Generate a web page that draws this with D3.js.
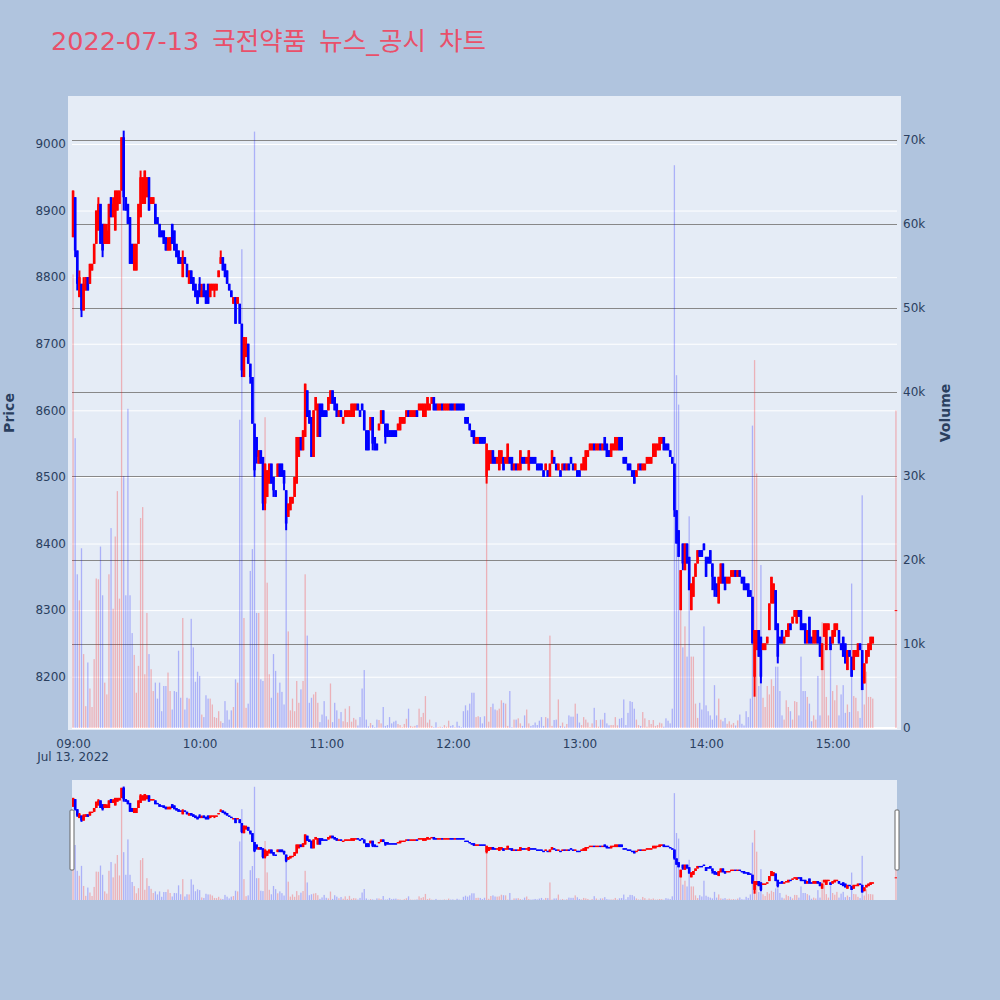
<!DOCTYPE html>
<html>
<head>
<meta charset="utf-8">
<script src="https://cdn.jsdelivr.net/npm/d3@7"></script>
<style>
  body { margin: 0; background: #b0c4de; }
  text { font-family: "DejaVu Sans", "Noto Sans CJK KR", sans-serif; }
</style>
</head>
<body>
<svg id="chart" width="1000" height="1000"></svg>
<script>
const chartTitle = "2022-07-13 국전약품 뉴스_공시 차트";
const priceTicks = [8200, 8300, 8400, 8500, 8600, 8700, 8800, 8900, 9000];
const volumeTicks = [0, 10000, 20000, 30000, 40000, 50000, 60000, 70000];
const hourTicks = ["09:00", "10:00", "11:00", "12:00", "13:00", "14:00", "15:00"];

// one candle per minute from 09:00 to 15:19, then the 15:30 closing print
const minutes = d3.range(380).concat([390]);

const open = [
  8860,8920,8840,8770,8790,8750,8780,8800,8790,8810, 8820,8850,8870,8910,8880,8850,8850,8850,8920,8890,
  8870,8900,8910,8930,9010,8920,8910,8890,8850,8810, 8810,8850,8890,8910,8910,8920,8950,8910,8910,8910,
  8890,8880,8870,8870,8860,8840,8840,8880,8870,8850, 8840,8830,8800,8830,8820,8790,8810,8800,8790,8780,
  8790,8770,8790,8780,8790,8770,8780,8780,8780,8800, 8820,8830,8820,8810,8790,8780,8760,8770,8760,8760,
  8730,8650,8680,8700,8670,8650,8580,8560,8520,8540, 8530,8460,8470,8490,8520,8500,8480,8500,8520,8520,
  8510,8480,8440,8450,8460,8470,8490,8530,8560,8540, 8560,8630,8600,8590,8530,8600,8560,8610,8610,8600,
  8600,8600,8610,8630,8620,8610,8590,8600,8580,8590, 8590,8590,8590,8590,8600,8610,8600,8610,8600,8570,
  8570,8570,8590,8560,8550,8570,8580,8600,8580,8580, 8570,8570,8570,8570,8570,8570,8580,8580,8590,8600,
  8590,8590,8590,8600,8600,8600,8590,8590,8600,8600, 8610,8620,8610,8600,8600,8610,8600,8600,8600,8610,
  8610,8600,8610,8610,8610,8610,8590,8590,8580,8570, 8570,8550,8550,8560,8560,8560,8500,8510,8520,8540,
  8530,8520,8510,8520,8530,8520,8520,8530,8530,8510, 8520,8510,8510,8530,8530,8520,8510,8530,8530,8530,
  8520,8520,8520,8510,8510,8510,8500,8520,8530,8520, 8510,8510,8510,8520,8510,8520,8530,8520,8510,8510,
  8510,8510,8510,8510,8530,8540,8540,8550,8540,8540, 8550,8540,8560,8550,8540,8530,8540,8540,8540,8560,
  8560,8530,8530,8520,8520,8510,8510,8500,8510,8520, 8510,8510,8520,8520,8520,8530,8530,8540,8540,8550,
  8560,8550,8550,8540,8530,8520,8450,8420,8300,8400, 8360,8400,8380,8300,8320,8350,8370,8390,8390,8400,
  8380,8380,8390,8370,8350,8340,8310,8340,8370,8350, 8340,8340,8350,8350,8360,8350,8360,8350,8350,8340,
  8340,8330,8320,8200,8240,8270,8260,8240,8240,8250, 8270,8310,8310,8330,8280,8260,8270,8250,8260,8260,
  8280,8280,8290,8280,8300,8300,8280,8280,8250,8290, 8260,8250,8250,8270,8260,8210,8260,8240,8270,8260,
  8250,8260,8270,8270,8250,8260,8250,8210,8240,8230, 8210,8230,8230,8250,8240,8190,8220,8230,8240,8250,
  8300
];
const high = [
  8930,8920,8840,8810,8790,8800,8800,8800,8820,8820, 8850,8900,8920,8910,8880,8880,8880,8910,8920,8920,
  8930,8930,8930,9010,9020,8920,8910,8890,8850,8850, 8850,8910,8960,8950,8960,8950,8950,8920,8920,8910,
  8890,8880,8870,8870,8860,8860,8860,8880,8870,8850, 8840,8830,8840,8830,8820,8810,8810,8800,8790,8780,
  8800,8790,8790,8780,8790,8790,8790,8790,8790,8810, 8840,8830,8820,8810,8790,8780,8770,8770,8770,8760,
  8730,8710,8710,8700,8670,8650,8580,8560,8540,8540, 8530,8520,8510,8520,8520,8500,8480,8520,8520,8520,
  8510,8480,8460,8470,8470,8500,8560,8560,8560,8570, 8640,8630,8600,8590,8600,8620,8610,8610,8610,8600,
  8600,8620,8630,8630,8620,8610,8600,8600,8590,8600, 8600,8600,8610,8610,8610,8610,8600,8610,8600,8570,
  8570,8590,8590,8560,8550,8580,8600,8600,8580,8580, 8570,8570,8570,8570,8580,8590,8590,8590,8600,8600,
  8600,8600,8600,8600,8610,8610,8610,8610,8620,8610, 8620,8620,8610,8610,8610,8610,8610,8610,8610,8610,
  8610,8610,8610,8610,8610,8610,8590,8590,8580,8570, 8570,8560,8560,8560,8560,8560,8550,8540,8540,8540,
  8530,8530,8540,8540,8530,8530,8550,8530,8530,8520, 8520,8520,8540,8530,8530,8530,8540,8530,8530,8530,
  8520,8520,8520,8510,8520,8510,8520,8540,8530,8520, 8520,8510,8520,8520,8520,8520,8530,8520,8520,8510,
  8510,8520,8530,8540,8540,8550,8550,8550,8550,8550, 8550,8550,8560,8550,8540,8550,8550,8560,8560,8560,
  8560,8530,8530,8520,8520,8510,8510,8510,8520,8520, 8520,8520,8530,8530,8530,8550,8550,8550,8560,8560,
  8560,8550,8550,8540,8530,8520,8450,8420,8360,8400, 8400,8400,8380,8340,8350,8370,8390,8390,8390,8400,
  8380,8380,8390,8370,8350,8340,8350,8370,8370,8350, 8350,8350,8360,8360,8360,8360,8360,8350,8350,8340,
  8340,8330,8320,8270,8270,8270,8260,8250,8250,8260, 8310,8350,8340,8330,8280,8260,8270,8260,8270,8280,
  8280,8290,8300,8300,8300,8300,8280,8280,8270,8290, 8260,8270,8270,8270,8260,8250,8280,8280,8280,8260,
  8270,8280,8280,8270,8250,8260,8250,8240,8240,8230, 8240,8240,8250,8250,8240,8220,8240,8250,8260,8260,
  8300
];
const low = [
  8860,8830,8780,8770,8740,8750,8780,8780,8790,8810, 8820,8850,8870,8850,8830,8850,8850,8850,8890,8890,
  8870,8900,8910,8930,8900,8900,8880,8820,8820,8810, 8810,8850,8890,8910,8910,8920,8900,8910,8910,8880,
  8880,8860,8860,8850,8840,8840,8840,8850,8840,8830, 8820,8820,8800,8820,8800,8790,8790,8780,8770,8760,
  8770,8770,8770,8760,8760,8770,8780,8770,8780,8800, 8820,8810,8800,8790,8780,8770,8760,8730,8760,8730,
  8650,8650,8680,8670,8640,8580,8500,8520,8520,8520, 8450,8450,8470,8490,8490,8470,8470,8500,8500,8500,
  8480,8420,8440,8450,8460,8470,8490,8530,8540,8540, 8560,8590,8580,8530,8530,8600,8560,8560,8590,8590,
  8590,8600,8610,8610,8600,8590,8590,8590,8580,8590, 8590,8590,8590,8590,8600,8600,8590,8600,8570,8540,
  8540,8570,8540,8540,8540,8570,8580,8580,8550,8560, 8560,8560,8560,8560,8570,8570,8580,8580,8590,8590,
  8590,8590,8590,8590,8600,8600,8590,8590,8600,8600, 8610,8600,8600,8600,8600,8600,8600,8600,8600,8600,
  8600,8600,8600,8600,8600,8600,8580,8580,8570,8560, 8550,8550,8550,8550,8550,8550,8490,8510,8520,8520,
  8520,8520,8510,8520,8510,8520,8520,8520,8510,8510, 8510,8510,8510,8520,8520,8520,8510,8520,8520,8520,
  8510,8510,8510,8500,8510,8500,8500,8520,8520,8510, 8510,8500,8510,8510,8510,8510,8520,8510,8510,8500,
  8500,8510,8510,8510,8530,8540,8540,8540,8540,8540, 8540,8540,8540,8530,8530,8530,8540,8540,8540,8540,
  8540,8520,8520,8510,8510,8500,8490,8500,8510,8510, 8510,8510,8520,8520,8520,8530,8530,8540,8540,8550,
  8540,8540,8540,8530,8520,8440,8400,8380,8300,8360, 8360,8370,8330,8300,8320,8350,8370,8380,8380,8390,
  8350,8370,8370,8330,8320,8320,8310,8340,8340,8330, 8340,8340,8350,8350,8350,8350,8350,8340,8330,8330,
  8320,8320,8250,8170,8240,8230,8190,8240,8240,8250, 8270,8310,8310,8270,8220,8250,8250,8250,8260,8260,
  8270,8280,8290,8280,8290,8270,8270,8250,8250,8250, 8250,8250,8250,8250,8230,8210,8260,8240,8270,8240,
  8250,8260,8270,8250,8240,8230,8220,8210,8230,8200, 8210,8230,8230,8240,8180,8190,8220,8230,8240,8250,
  8300
];
const close = [
  8930,8840,8790,8800,8750,8790,8800,8780,8820,8820, 8850,8900,8910,8850,8840,8880,8870,8910,8890,8910,
  8930,8930,8930,9010,8920,8900,8880,8820,8820,8850, 8850,8910,8950,8950,8960,8950,8900,8920,8920,8880,
  8880,8860,8860,8850,8840,8850,8860,8850,8840,8830, 8820,8820,8830,8820,8800,8810,8790,8780,8770,8760,
  8770,8780,8770,8760,8760,8790,8790,8790,8790,8810, 8830,8810,8800,8790,8780,8770,8770,8730,8770,8730,
  8660,8710,8700,8670,8650,8580,8510,8530,8540,8520, 8460,8520,8510,8520,8490,8480,8470,8520,8500,8500,
  8490,8430,8460,8470,8470,8500,8560,8560,8540,8570, 8640,8590,8580,8530,8600,8620,8610,8560,8590,8590,
  8590,8620,8630,8610,8600,8590,8600,8590,8590,8600, 8600,8600,8610,8610,8610,8600,8590,8600,8570,8540,
  8540,8590,8550,8540,8540,8580,8600,8580,8560,8560, 8560,8560,8560,8560,8580,8590,8590,8590,8600,8590,
  8600,8600,8600,8590,8610,8610,8610,8610,8620,8610, 8620,8600,8600,8610,8610,8600,8610,8610,8610,8600,
  8600,8610,8600,8600,8600,8600,8580,8580,8570,8560, 8550,8560,8560,8550,8550,8550,8550,8540,8540,8520,
  8520,8530,8540,8540,8510,8530,8550,8520,8510,8520, 8510,8520,8540,8520,8520,8530,8540,8520,8520,8520,
  8510,8510,8510,8500,8520,8500,8520,8540,8520,8510, 8520,8500,8520,8510,8520,8510,8520,8510,8520,8500,
  8500,8520,8530,8540,8540,8550,8550,8540,8550,8550, 8540,8550,8540,8530,8530,8550,8550,8560,8560,8540,
  8540,8520,8520,8510,8510,8500,8490,8510,8520,8510, 8520,8520,8530,8530,8530,8550,8550,8550,8560,8560,
  8540,8540,8540,8530,8520,8450,8400,8380,8360,8370, 8400,8370,8330,8340,8350,8370,8390,8380,8380,8390,
  8350,8370,8370,8350,8330,8320,8350,8370,8340,8330, 8350,8350,8360,8360,8350,8360,8350,8340,8330,8330,
  8320,8320,8250,8270,8270,8230,8200,8250,8250,8260, 8310,8350,8340,8270,8230,8250,8250,8260,8270,8280,
  8270,8290,8300,8300,8290,8270,8270,8250,8270,8250, 8250,8270,8270,8250,8230,8250,8280,8280,8280,8240,
  8270,8280,8280,8250,8240,8230,8220,8240,8230,8200, 8240,8240,8250,8240,8180,8220,8240,8250,8260,8260,
  8300
];
const volume = [
  54000,34500,18300,15200,21400,8800,2600,7800,4700,2500, 8200,17800,17700,21600,15800,5400,4000,18300,23800,14200,
  22800,28200,15400,70000,30000,15800,38000,15800,11300,8700, 4200,7400,25000,26300,6400,13700,8800,7000,4400,5400,
  3500,5400,2000,5000,5000,6600,4400,2200,4400,4300, 9200,3600,13100,2200,3600,3500,13000,9600,5500,6700,
  6200,1600,1300,3900,3500,3500,2800,1300,1200,2000, 800,600,3200,2100,1000,2100,2500,5800,5400,36700,
  57000,13100,2400,2900,18700,21300,71000,13700,13700,5800, 5600,37000,17300,6400,3600,8800,6800,4200,5400,4300,
  2800,24400,11500,2100,3500,2000,5600,3000,4600,5600, 18300,11000,3000,3600,4000,4300,3000,700,1600,3200,
  1400,1000,5300,700,3000,2100,1100,1900,800,2300, 700,2600,750,1200,1000,300,1300,4700,6900,1000,
  200,600,350,100,1000,950,550,2500,250,350, 1300,550,750,870,480,350,100,480,1100,2300,
  250,160,250,350,2300,1300,1800,3800,640,1000, 250,100,680,100,160,100,350,160,870,250,
  350,100,750,250,100,2000,2700,2100,2900,4200, 4200,1300,1400,1300,550,1400,30000,750,2500,2900,
  2200,2100,2300,3300,3000,2900,250,4400,100,1000, 1000,1150,550,250,1500,2200,550,250,350,650,
  350,870,1300,250,1300,1150,11000,250,950,1000, 3400,250,650,160,480,1500,1350,1350,2900,1700,
  650,350,1300,1000,650,100,550,2400,950,160, 1000,1000,1800,550,320,350,350,1300,320,1100,
  1200,3400,350,1800,3200,3100,2300,1000,350,250, 1900,1150,160,950,480,950,250,350,640,550,
  160,1150,870,550,2300,67000,42000,38500,15000,9600, 12100,8500,25200,8500,8500,2900,1200,3000,2200,12100,
  2700,2000,1500,1000,5100,1500,3500,1000,800,1200, 500,800,400,600,300,900,1600,500,300,2000,
  1300,3500,36000,43800,30300,5000,19400,3600,2500,5000, 4000,5800,5000,7300,7300,4400,1500,1000,3300,2500,
  2000,1000,3200,3100,1500,8500,4400,4400,3700,2900, 800,1500,1000,6200,1500,12600,10900,3700,1500,9300,
  4400,3300,5100,1500,4000,5100,1800,2800,1900,17200, 3800,3600,2000,1200,27700,2800,6700,3700,3700,3500,
  37800
];

const n = minutes.length;
[open, high, low, close, volume].forEach(a => {
  if (a.length !== n) throw new Error("length mismatch " + a.length + " vs " + n);
});

const upColor = "#ff0000", downColor = "#0000ff";
const textColor = "#2a3f5f";
const t0 = new Date(2022, 6, 13, 9, 0);
const candles = minutes.map((m, i) => ({
  t: d3.timeMinute.offset(t0, m),
  o: open[i], h: high[i], l: low[i], c: close[i], v: volume[i]
}));
const colorOf = d => d.c >= d.o ? upColor : downColor;

const svg = d3.select("#chart");
svg.append("rect").attr("width", 1000).attr("height", 1000).attr("fill", "#b0c4de");

// main plot frame
const box = { left: 68, right: 901, top: 96, bottom: 730 };
const xRange = [72, 897];
const x = d3.scaleTime()
  .domain([d3.timeSecond.offset(t0, -30), d3.timeSecond.offset(t0, 390 * 60 + 30)])
  .range(xRange);
const yPrice = d3.scaleLinear().domain([8120, 9072]).range([730, 96]);
const yVol = d3.scaleLinear().domain([0, 75240]).range([728, 96]);

svg.append("rect")
  .attr("x", box.left).attr("y", box.top)
  .attr("width", box.right - box.left).attr("height", box.bottom - box.top)
  .attr("fill", "#e5ecf6");

svg.append("clipPath").attr("id", "clipMain")
  .append("rect")
  .attr("x", box.left).attr("y", box.top)
  .attr("width", box.right - box.left).attr("height", box.bottom - box.top);

// price grid (white)
const gPriceGrid = svg.append("g").attr("transform", `translate(${xRange[0]},0)`)
  .call(d3.axisLeft(yPrice).tickValues(priceTicks).tickSize(-(xRange[1] - xRange[0])).tickFormat(""));
gPriceGrid.select(".domain").remove();
gPriceGrid.selectAll("line").attr("stroke", "#ffffff").attr("stroke-width", 1);

// volume grid (gray)
const gVolGrid = svg.append("g").attr("transform", `translate(${xRange[0]},0)`)
  .call(d3.axisLeft(yVol).tickValues(volumeTicks.slice(1)).tickSize(-(xRange[1] - xRange[0])).tickFormat(""));
gVolGrid.select(".domain").remove();
gVolGrid.selectAll("line").attr("stroke", "#888888").attr("stroke-width", 1);

// volume zero line
svg.append("line")
  .attr("x1", xRange[0]).attr("x2", xRange[1])
  .attr("y1", yVol(0)).attr("y2", yVol(0))
  .attr("stroke", "#ffffff").attr("stroke-width", 2);

function drawSeries(g, xs, yp, yv, barW, bodyW) {
  g.append("g").selectAll("rect")
    .data(candles)
    .join("rect")
    .attr("x", d => xs(d.t) - barW / 2)
    .attr("width", barW)
    .attr("y", d => yv(d.v))
    .attr("height", d => yv(0) - yv(d.v))
    .attr("fill", colorOf)
    .attr("fill-opacity", 0.25);

  const cg = g.append("g").selectAll("g")
    .data(candles)
    .join("g");
  cg.append("line")
    .attr("x1", d => xs(d.t)).attr("x2", d => xs(d.t))
    .attr("y1", d => yp(d.h)).attr("y2", d => yp(d.l))
    .attr("stroke", colorOf).attr("stroke-width", 2);
  cg.append("rect")
    .attr("x", d => xs(d.t) - bodyW / 2)
    .attr("width", bodyW)
    .attr("y", d => yp(Math.max(d.o, d.c)))
    .attr("height", d => Math.max(1, Math.abs(yp(d.o) - yp(d.c))))
    .attr("fill", colorOf);
}

const gMain = svg.append("g").attr("clip-path", "url(#clipMain)");
drawSeries(gMain, x, yPrice, yVol, 1.3, 2.6);

// axes
const fmtHour = d3.timeFormat("%H:%M");
const hourDates = hourTicks.map(h => new Date(2022, 6, 13, +h.slice(0, 2), 0));
const gx = svg.append("g").attr("transform", `translate(0,${box.bottom})`)
  .call(d3.axisBottom(x).tickValues(hourDates).tickFormat(fmtHour).tickSize(0).tickPadding(9));
gx.select(".domain").remove();
gx.selectAll("text").attr("font-size", 12).attr("fill", textColor);
svg.append("text")
  .attr("x", x(hourDates[0])).attr("y", 761)
  .attr("text-anchor", "middle").attr("font-size", 12).attr("fill", textColor)
  .text("Jul 13, 2022");

const gy = svg.append("g").attr("transform", `translate(${box.left},0)`)
  .call(d3.axisLeft(yPrice).tickValues(priceTicks).tickSize(0).tickPadding(2).tickFormat(d3.format("d")));
gy.select(".domain").remove();
gy.selectAll("text").attr("font-size", 12).attr("fill", textColor);

const gv = svg.append("g").attr("transform", `translate(${box.right},0)`)
  .call(d3.axisRight(yVol).tickValues(volumeTicks).tickSize(0).tickPadding(2)
    .tickFormat(d => d === 0 ? "0" : d / 1000 + "k"));
gv.select(".domain").remove();
gv.selectAll("text").attr("font-size", 12).attr("fill", textColor);

svg.append("text")
  .attr("transform", `translate(14,${(box.top + box.bottom) / 2}) rotate(-90)`)
  .attr("text-anchor", "middle").attr("font-size", 14).attr("font-weight", "bold")
  .attr("fill", textColor).text("Price");
svg.append("text")
  .attr("transform", `translate(950,${(box.top + box.bottom) / 2}) rotate(-90)`)
  .attr("text-anchor", "middle").attr("font-size", 14).attr("font-weight", "bold")
  .attr("fill", textColor).text("Volume");

// title
svg.append("text")
  .attr("x", 51).attr("y", 50)
  .attr("font-size", 25.5).attr("word-spacing", 5).attr("fill", "#e9506a")
  .text(chartTitle);

// range slider
const slider = { top: 780, bottom: 900 };
svg.append("rect")
  .attr("x", xRange[0]).attr("y", slider.top)
  .attr("width", xRange[1] - xRange[0]).attr("height", slider.bottom - slider.top)
  .attr("fill", "#e5ecf6");
svg.append("clipPath").attr("id", "clipSlider")
  .append("rect")
  .attr("x", xRange[0]).attr("y", slider.top)
  .attr("width", xRange[1] - xRange[0]).attr("height", slider.bottom - slider.top);
const ysPrice = yPrice.copy().range([slider.bottom, slider.top]);
const ysVol = yVol.copy().range([slider.bottom, slider.top]);
const gSlider = svg.append("g").attr("clip-path", "url(#clipSlider)");
drawSeries(gSlider, x, ysPrice, ysVol, 1.3, 2.6);

[xRange[0] - 2, xRange[1] - 2].forEach(hx => {
  svg.append("rect")
    .attr("x", hx).attr("y", 810).attr("width", 4).attr("height", 60)
    .attr("fill", "#ffffff").attr("stroke", "#666666").attr("stroke-width", 1)
    .attr("rx", 1);
});
</script>
</body>
</html>
